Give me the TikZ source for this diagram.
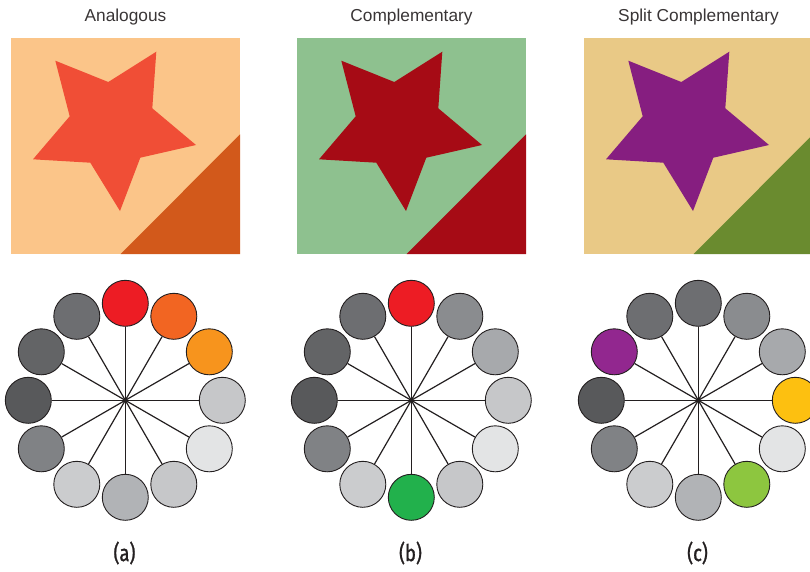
\documentclass[tikz,border=0pt]{standalone}
\usepackage{fontspec}
\setmainfont{Liberation Sans}
\newfontfamily\capfont[FakeBold=1.4]{Fira Sans}

% swatch colours
\definecolor{ink}{HTML}{231F20}
\definecolor{peach}{HTML}{FBC589}
\definecolor{coral}{HTML}{F04E36}
\definecolor{rust}{HTML}{D2591B}
\definecolor{sage}{HTML}{8EC18F}
\definecolor{crimson}{HTML}{A60B15}
\definecolor{sand}{HTML}{E9C986}
\definecolor{plum}{HTML}{861E80}
\definecolor{olive}{HTML}{6A8B2F}
% wheel colours
\definecolor{hred}{HTML}{ED1C24}
\definecolor{horange}{HTML}{F26522}
\definecolor{hamber}{HTML}{F7941D}
\definecolor{hyellow}{HTML}{FDC010}
\definecolor{hgreen}{HTML}{22B14C}
\definecolor{hlime}{HTML}{8DC63F}
\definecolor{hpurple}{HTML}{92278F}
\definecolor{ga}{HTML}{6D6E71}
\definecolor{gb}{HTML}{8A8C8F}
\definecolor{gc}{HTML}{A7A9AC}
\definecolor{gd}{HTML}{C6C7C9}
\definecolor{ge}{HTML}{E3E4E5}
\definecolor{gf}{HTML}{B1B3B6}
\definecolor{gg}{HTML}{CBCCCE}
\definecolor{gh}{HTML}{808285}
\definecolor{gi}{HTML}{58595B}
\definecolor{gj}{HTML}{636466}

\begin{document}
\begin{tikzpicture}[x=1pt,y=-1pt,
	hue/.style={circle, draw=ink, line width=0.9pt, minimum size=46pt, inner sep=0pt},
	spoke/.style={ink, line width=1.2pt},
	heading/.style={font=\fontsize{17.3}{20}\selectfont, text=ink!90, anchor=base},
	tag/.style={font=\capfont\fontsize{23}{26}\selectfont, text=ink, xscale=0.8}]
	\useasboundingbox (0,0) rectangle (810,571);
	\foreach \px/\bg/\fg/\tri/\title/\lbl/\cols in {
		0/peach/coral/rust/Analogous/a/{hred,horange,hamber,gd,ge,gd,gf,gg,gh,gi,gj,ga},
		286/sage/crimson/crimson/Complementary/b/{hred,gb,gc,gd,ge,gd,hgreen,gg,gh,gi,gj,ga},
		573/sand/plum/olive/Split Complementary/c/{ga,gb,gc,hyellow,ge,hlime,gf,gg,gh,gi,hpurple,ga}}{
	\begin{scope}[shift={(\px,0)}]
		% swatch with star and corner wedge
		\fill[\bg] (11,38) rectangle (240,254);
		\fill[\fg] (55.3,60.7) -- (108.3,82) -- (156.3,51.7) -- (152.3,108.3) -- (196,145)
			-- (140.3,157.7) -- (120,211) -- (90.3,162.7) -- (33,159.3) -- (69.7,116.3) -- cycle;
		\fill[\tri] (240,134.3) -- (240,254) -- (120.7,254) -- cycle;
		\node[heading] (title\lbl) at (125.5,21.5) {\title};
		% colour wheel
		\coordinate (hub\lbl) at (125.3,400.3);
		\foreach \c [count=\i from 0] in \cols {
			\node[hue, fill=\c] (w\lbl\i) at ([shift={(90-30*\i:97pt)}]hub\lbl) {};
			\draw[spoke] (hub\lbl) -- (w\lbl\i);
		}
		\fill[ink] (hub\lbl) circle (2.2);
		\node[tag] (tag\lbl) at (124.5,553) {(\lbl)};
	\end{scope}
	}
\end{tikzpicture}
\end{document}
